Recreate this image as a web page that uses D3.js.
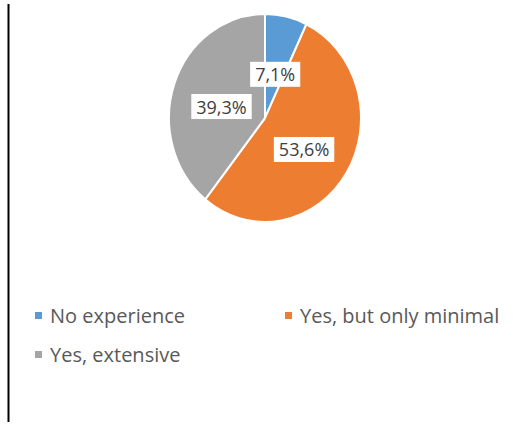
<!DOCTYPE html>
<html>
<head>
<meta charset="utf-8">
<script src="https://cdn.jsdelivr.net/npm/d3@7"></script>
<style>
  html, body { margin: 0; padding: 0; background: #ffffff; }
  svg { display: block; }
  text { font-family: "Open Sans", "Noto Sans", sans-serif; }
</style>
</head>
<body>
<svg id="chart" width="515" height="425"></svg>
<script>
// Survey answers: prior experience
const categories = ["No experience", "Yes, but only minimal", "Yes, extensive"];
const values = [7.1, 53.6, 39.3];
const colors = ["#5B9BD5", "#ED7D31", "#A5A5A5"];

const svg = d3.select("#chart");

// frame line on the left edge
svg.append("line")
  .attr("x1", 8.5).attr("x2", 8.5)
  .attr("y1", 4).attr("y2", 422)
  .attr("stroke", "#000").attr("stroke-width", 2);

const cx = 265, cy = 118, r = 96, sy = 104 / 96;

const pie = d3.pie().sort(null).value(d => d);
const arcs = pie(values);
const arc = d3.arc().innerRadius(0).outerRadius(r);

const g = svg.append("g")
  .attr("transform", `translate(${cx},${cy}) scale(1,${sy})`);

g.selectAll("path")
  .data(arcs)
  .join("path")
  .attr("d", arc)
  .attr("fill", (d, i) => colors[i])
  .attr("stroke", "#ffffff")
  .attr("stroke-width", 2)
  .attr("stroke-linejoin", "round");

// data labels in white boxes
const fmt = v => d3.format(".1f")(v).replace(".", ",") + "%";
const labelArc = d3.arc().innerRadius(0).outerRadius(r * 0.96);
const lg = svg.append("g");
arcs.forEach((d, i) => {
  const c = labelArc.centroid(d);
  const x = cx + c[0], y = cy + c[1] * sy + 5;
  const t = lg.append("text")
    .attr("x", x).attr("y", y)
    .attr("text-anchor", "middle")
    .attr("dominant-baseline", "central")
    .attr("font-size", 18)
    .attr("fill", "#404040")
    .text(fmt(values[i]));
  const bb = t.node().getBBox();
  lg.insert("rect", "text")
    .attr("x", bb.x - 5).attr("y", y - 12.5)
    .attr("width", bb.width + 10).attr("height", 25)
    .attr("fill", "#ffffff");
});

// legend
const legendPos = [[35, 315], [285, 315], [35, 354]];
const leg = svg.append("g");
categories.forEach((name, i) => {
  const [x, y] = legendPos[i];
  leg.append("rect")
    .attr("x", x).attr("y", y - 3)
    .attr("width", 7).attr("height", 7)
    .attr("fill", colors[i]);
  leg.append("text")
    .attr("x", x + 15).attr("y", y)
    .attr("dominant-baseline", "central")
    .attr("font-size", 20)
    .attr("fill", "#595959")
    .text(name);
});
</script>
</body>
</html>
